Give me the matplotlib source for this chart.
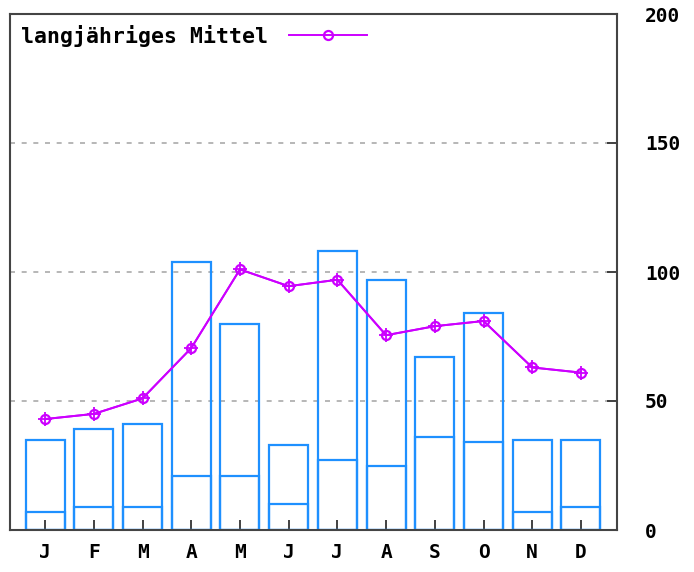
import matplotlib.pyplot as plt

# Datos
monate = ['J', 'F', 'M', 'A', 'M', 'J', 'J', 'A', 'S', 'O', 'N', 'D']
balken_oben = [35, 39, 41, 104, 80, 33, 108, 97, 67, 84, 35, 35]
balken_unten = [7, 9, 9, 21, 21, 10, 27, 25, 36, 34, 7, 9]
mittel = [43, 45, 51, 70.5, 101, 94.5, 97, 75.5, 79, 81, 63, 61]

blau = '#1e90ff'
lila = '#cc00ff'
schrift = {'family': 'DejaVu Sans Mono', 'weight': 'bold', 'size': 14}
x = list(range(len(monate)))

fig = plt.figure(figsize=(6.94, 5.72), dpi=100)
ax = fig.add_axes([10 / 694, 1 - 530 / 572, 607 / 694, 516 / 572])

ax.bar(x, balken_oben, width=0.8, fill=False, edgecolor=blau, linewidth=1.6, zorder=2)
ax.bar(x, balken_unten, width=0.8, fill=False, edgecolor=blau, linewidth=1.6, zorder=2)

ax.plot(x, mittel, color=lila, linewidth=1.4, marker='+', markersize=10,
        markeredgewidth=1.3, zorder=4)
linie, = ax.plot(x, mittel, color=lila, linewidth=1.4, marker='o', markersize=6.5,
                 markerfacecolor='none', markeredgewidth=1.6, zorder=5,
                 label='langjähriges Mittel')

ax.set_xlim(-0.72, 11.74)
ax.set_ylim(0, 200)
ax.set_xticks(x)
ax.set_xticklabels(monate)
ax.set_yticks([0, 50, 100, 150, 200])
ax.yaxis.tick_right()
ax.tick_params(axis='both', direction='in', length=7, width=1.3, color='#333333')
ax.tick_params(axis='x', pad=9)
ax.tick_params(axis='y', pad=20)
for lab in ax.get_xticklabels() + ax.get_yticklabels():
    lab.set_fontproperties(schrift)

for v in [50, 100, 150]:
    ax.axhline(v, color='#aaaaaa', linestyle=(0, (3, 4)), linewidth=1.2, zorder=1)

for s in ax.spines.values():
    s.set_color('#444444')
    s.set_linewidth(1.5)

leg = ax.legend(handles=[linie], loc='upper left', frameon=False, markerfirst=False,
                prop=dict(schrift, size=15.5), handlelength=3.6, handletextpad=1.0,
                borderaxespad=0.3, borderpad=0.2)

plt.savefig('out.png', dpi=100)
